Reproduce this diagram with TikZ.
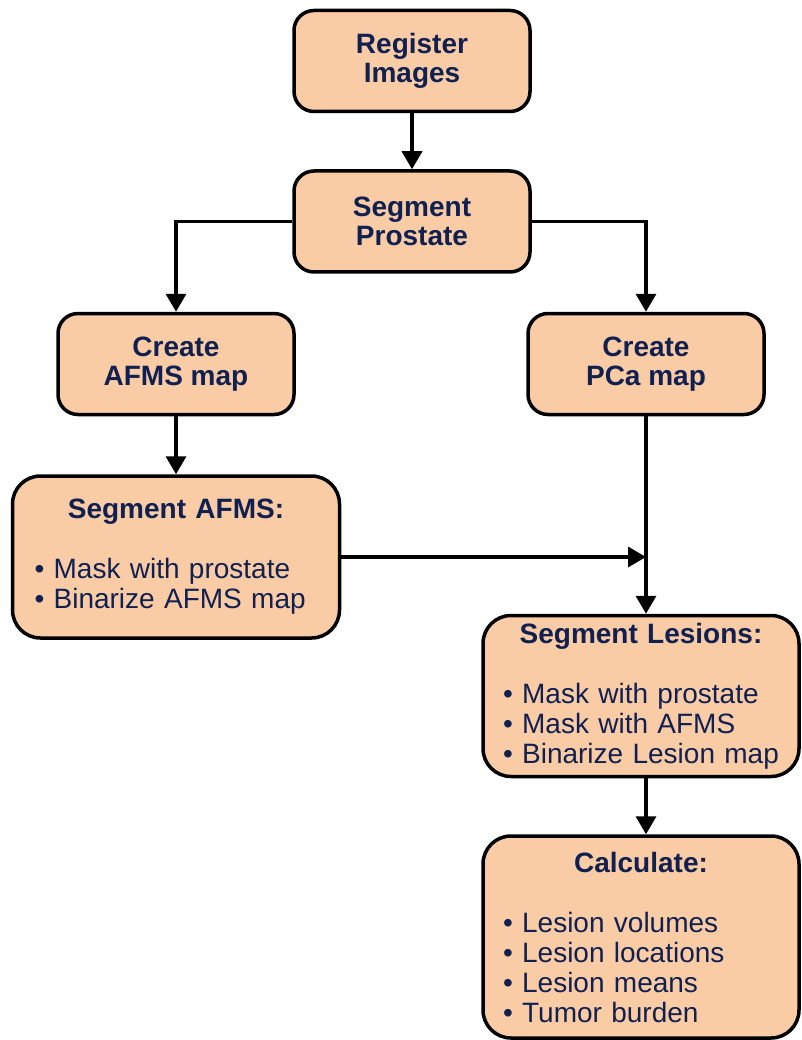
\documentclass[tikz,border=0pt]{standalone}
\usepackage{fontspec}
\setmainfont{Liberation Sans}
\usepackage{tikz}
\usetikzlibrary{positioning,arrows.meta}
\setlength{\parindent}{0pt}
\definecolor{peach}{RGB}{250,204,166}
\definecolor{navy}{RGB}{16,32,80}

\begin{document}
\begin{tikzpicture}[x=1pt, y=-1pt,
  stepbox/.style={rectangle, rounded corners=20pt, draw=black, fill=peach, line width=3.5pt,
                  text=navy, align=center, minimum width=236pt, minimum height=101pt,
                  font=\fontsize{28}{29}\selectfont\bfseries},
  listbox/.style={rectangle, rounded corners=28pt, draw=black, fill=peach, line width=3.5pt,
                  text=navy, align=left, inner ysep=2pt,
                  font=\fontsize{28}{30}\selectfont},
  flow/.style={-{Triangle[width=20pt,length=18pt]}, line width=3.5pt}]
    \useasboundingbox (0,0) rectangle (802,1040);
    % Steps
    \node[stepbox] (register) at (412,61) {Register\\Images};
    \node[stepbox] (prostate) [below=56pt of register] {Segment\\Prostate};
    \node[stepbox] (afmsmap) at (176,364) {Create\\AFMS map};
    \node[stepbox] (pcamap) at (646,364) {Create\\PCa map};
    \node[listbox, text width=283pt, inner xsep=22pt, minimum height=162pt] (segafms) [below=58pt of afmsmap]
      {\hfill\textbf{Segment AFMS:}\hfill\null\\[30pt]
       \textbullet\ Mask with prostate\\
       \textbullet\ Binarize AFMS map};
    \node[listbox, text width=276pt, inner xsep=20pt, minimum height=161pt] (seglesions) at (641,696)
      {\hfill\textbf{Segment Lesions:}\hfill\null\\[30pt]
       \textbullet\ Mask with prostate\\
       \textbullet\ Mask with AFMS\\
       \textbullet\ Binarize Lesion map};
    \node[listbox, text width=276pt, inner xsep=20pt, minimum height=202pt] (calc) [below=56pt of seglesions]
      {\hfill\textbf{Calculate:}\hfill\null\\[30pt]
       \textbullet\ Lesion volumes\\
       \textbullet\ Lesion locations\\
       \textbullet\ Lesion means\\
       \textbullet\ Tumor burden};
    % Lines
    \draw[flow] (register) -- (prostate);
    \draw[flow] (prostate.west) -| (afmsmap);
    \draw[flow] (prostate.east) -| (pcamap);
    \draw[flow] (afmsmap) -- (segafms);
    \draw[flow] (pcamap.south) -- (pcamap.south |- seglesions.north);
    \draw[flow] (segafms.east) -- (pcamap.south |- segafms.east);
    \draw[flow] (seglesions.south -| pcamap.south) -- (calc.north -| pcamap.south);
\end{tikzpicture}
\end{document}
